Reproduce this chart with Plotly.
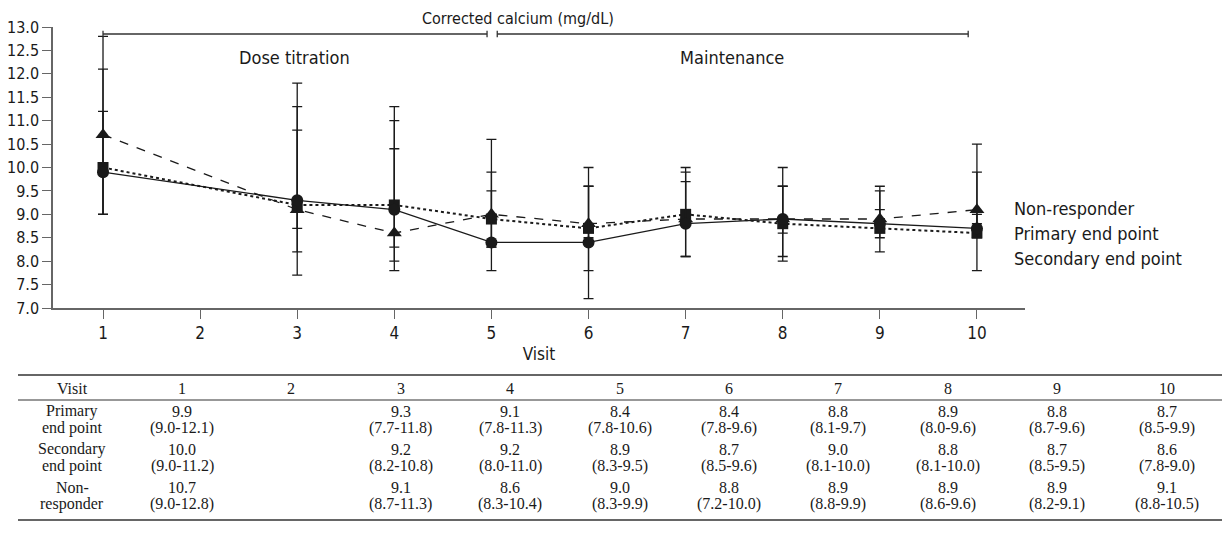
import plotly.graph_objects as go

# ---------------- data ----------------
visits = [1, 3, 4, 5, 6, 7, 8, 9, 10]
all_visits = [1, 2, 3, 4, 5, 6, 7, 8, 9, 10]

primary_mean = [9.9, 9.3, 9.1, 8.4, 8.4, 8.8, 8.9, 8.8, 8.7]
primary_lo = [9.0, 7.7, 7.8, 7.8, 7.8, 8.1, 8.0, 8.7, 8.5]
primary_hi = [12.1, 11.8, 11.3, 10.6, 9.6, 9.7, 9.6, 9.6, 9.9]

secondary_mean = [10.0, 9.2, 9.2, 8.9, 8.7, 9.0, 8.8, 8.7, 8.6]
secondary_lo = [9.0, 8.2, 8.0, 8.3, 8.5, 8.1, 8.1, 8.5, 7.8]
secondary_hi = [11.2, 10.8, 11.0, 9.5, 9.6, 10.0, 10.0, 9.5, 9.0]

non_mean = [10.7, 9.1, 8.6, 9.0, 8.8, 8.9, 8.9, 8.9, 9.1]
non_lo = [9.0, 8.7, 8.3, 8.3, 7.2, 8.8, 8.6, 8.2, 8.8]
non_hi = [12.8, 11.3, 10.4, 9.9, 10.0, 9.9, 9.6, 9.1, 10.5]

series_names = ["Non-responder", "Primary end point", "Secondary end point"]
row_labels = [("Primary", "end point"), ("Secondary", "end point"), ("Non-", "responder")]
y_ticks = [7.0, 7.5, 8.0, 8.5, 9.0, 9.5, 10.0, 10.5, 11.0, 11.5, 12.0, 12.5, 13.0]
phase_labels = ["Dose titration", "Maintenance"]
top_title = "Corrected calcium (mg/dL)"

# ---------------- layout geometry (pixels) ----------------
W, H = 1225, 541
ML, MR, MT, MB = 53, 200, 27, 233
PW = W - ML - MR
PH = H - MT - MB


def px(x):
    return (x - ML) / PW


def py(y):
    return (H - MB - y) / PH


SANS = "DejaVu Sans Condensed, Liberation Sans Narrow, Arial Narrow, sans-serif"
SERIF = "Liberation Serif, Times New Roman, serif"
INK = "#1a1a1a"

fig = go.Figure()


def add_series(mean, lo, hi, dash, symbol, size, width):
    fig.add_trace(go.Scatter(
        x=visits, y=mean, mode="lines+markers",
        line=dict(color=INK, dash=dash, width=width),
        marker=dict(symbol=symbol, size=size, color=INK),
        error_y=dict(type="data", symmetric=False,
                     array=[h - m for h, m in zip(hi, mean)],
                     arrayminus=[m - l for m, l in zip(mean, lo)],
                     color=INK, thickness=1.3, width=5),
        showlegend=False, hoverinfo="skip",
    ))


add_series(non_mean, non_lo, non_hi, "dash", "triangle-up", 13, 1.3)
add_series(secondary_mean, secondary_lo, secondary_hi, "dot", "square", 11, 2)
add_series(primary_mean, primary_lo, primary_hi, "solid", "circle", 12, 1.3)

shapes = []
annotations = []

# top bracket
by = 12.85
tk = 0.07
for x0, x1 in [(1.0, 4.955), (5.06, 9.91)]:
    shapes.append(dict(type="line", xref="x", yref="y", x0=x0, x1=x1, y0=by, y1=by,
                       line=dict(color="#333", width=1.3)))
    for xe in (x0, x1):
        shapes.append(dict(type="line", xref="x", yref="y", x0=xe, x1=xe, y0=by - tk, y1=by + tk,
                           line=dict(color="#333", width=1.3)))


def ann(text, x, y, size, family=SANS, xanchor="center"):
    annotations.append(dict(text=text, xref="paper", yref="paper", x=px(x), y=py(y),
                            xanchor=xanchor, yanchor="middle", showarrow=False,
                            font=dict(family=family, size=size, color=INK)))


ann(top_title, 518, 18, 16)
ann(phase_labels[0], 294, 57, 18)
ann(phase_labels[1], 732, 57, 18)

# legend-like labels
for i, name in enumerate(series_names):
    ann(name, 1012, 208 + 25 * i, 18, xanchor="left")

# ---------------- table ----------------
TL, TR = 18, 1222
for yl, wdt in [(375, 1.6), (400, 1.2), (520, 1.6)]:
    shapes.append(dict(type="line", xref="paper", yref="paper", x0=px(TL), x1=px(TR),
                       y0=py(yl), y1=py(yl), line=dict(color="#333", width=wdt)))

label_x = 72
col0 = 182
col_step = 109.4
TS = 16

ann("Visit", label_x, 388, TS, SERIF)
for j, v in enumerate(all_visits):
    ann(str(v), col0 + col_step * j, 388, TS, SERIF)

rows = [(primary_mean, primary_lo, primary_hi),
        (secondary_mean, secondary_lo, secondary_hi),
        (non_mean, non_lo, non_hi)]
row_y = [(411, 428), (449, 466), (487, 504)]
for (mean, lo, hi), (l1, l2), (y1, y2) in zip(rows, row_labels, row_y):
    ann(l1, label_x, y1, TS, SERIF)
    ann(l2, label_x, y2, TS, SERIF)
    for v, m, a, b in zip(visits, mean, lo, hi):
        cx = col0 + col_step * all_visits.index(v)
        ann(f"{m:.1f}", cx, y1, TS, SERIF)
        ann(f"({a:.1f}-{b:.1f})", cx, y2, TS, SERIF)

fig.update_layout(
    width=W, height=H,
    margin=dict(l=ML, r=MR, t=MT, b=MB, pad=0, autoexpand=False),
    paper_bgcolor="white", plot_bgcolor="white",
    shapes=shapes, annotations=annotations,
    xaxis=dict(range=[0.485, 10.495], tickmode="array", tickvals=all_visits,
               ticktext=[str(v) for v in all_visits], automargin=False,
               showgrid=False, zeroline=False, showline=True, linecolor="#666", linewidth=1.5,
               ticks="outside", ticklen=9, tickcolor="#666", tickwidth=1.3,
               tickfont=dict(family=SANS, size=17, color=INK),
               title=dict(text="Visit", font=dict(family=SANS, size=17, color=INK), standoff=6)),
    yaxis=dict(range=[7, 13], tickmode="array", tickvals=y_ticks,
               ticktext=[f"{t:.1f}" for t in y_ticks], automargin=False,
               showgrid=False, zeroline=False, showline=True, linecolor="#666", linewidth=1.5,
               ticks="outside", ticklen=9, tickcolor="#666", tickwidth=1.3,
               tickfont=dict(family=SANS, size=16, color=INK)),
)

fig.write_html("out.html", config={"displayModeBar": False},
               post_script="document.body.style.margin='0px';")
